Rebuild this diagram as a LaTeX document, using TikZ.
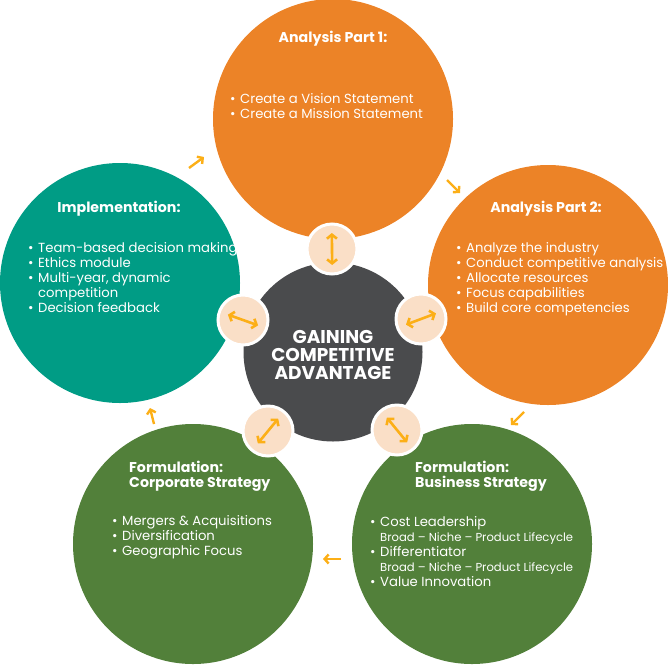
\documentclass[tikz,border=0pt]{standalone}
\usepackage{fontspec}
\setmainfont{Poppins}
\usetikzlibrary{arrows.meta,positioning,calc}

\definecolor{stageOrange}{RGB}{236,131,39}
\definecolor{stageTeal}{RGB}{0,156,133}
\definecolor{stageGreen}{RGB}{82,128,58}
\definecolor{hubGray}{RGB}{74,75,77}
\definecolor{jointPeach}{RGB}{250,223,199}
\definecolor{arrowGold}{RGB}{252,175,23}

\newcommand{\itm}{\makebox[10pt][l]{\textbullet}}
\newcommand{\ind}{\hspace*{10pt}}

\begin{document}
\begin{tikzpicture}[
  x=1pt, y=-1pt,
  font=\fontsize{13.2}{15}\selectfont,
  stage/.style={circle, minimum size=240pt, inner sep=0pt},
  joint/.style={circle, fill=jointPeach, draw=white, line width=3pt, minimum size=50pt, inner sep=0pt},
  hub/.style={circle, fill=hubGray, minimum size=179pt, inner sep=0pt},
  hubtxt/.style={text=white, align=center, inner sep=0pt, font=\bfseries\fontsize{18.5}{18}\selectfont},
  ttl/.style={text=white, font=\bfseries\fontsize{14.2}{15}\selectfont, inner sep=0pt, align=left},
  pts/.style={text=white, align=left, inner sep=0pt, anchor=base west},
  dbl/.style={draw=arrowGold, line width=2.6pt, {Straight Barb[length=4pt,width=10pt]}-{Straight Barb[length=4pt,width=10pt]}},
  cyc/.style={draw=arrowGold, line width=2.4pt, -{Straight Barb[length=4pt,width=9pt]}},
]
\useasboundingbox (0,0) rectangle (668,664);

% Stages
\node[stage, fill=stageOrange] (AP1) at (333,119) {};
\node[stage, fill=stageOrange] (AP2) at (548,285) {};
\node[stage, fill=stageGreen]  (FBS) at (472,544) {};
\node[stage, fill=stageGreen]  (FCS) at (193,544) {};
\node[stage, fill=stageTeal]   (IMP) at (120,283) {};

% Hub
\node[hub] (GCA) at (333,352) {};
\node[hubtxt] (GCAt) at ($(GCA)+(0,3)$) {GAINING\\COMPETITIVE\\ADVANTAGE};

% Joints between hub and stages
\node[joint] (J1) at (332,249) {};
\node[joint] (J2) at (421,319) {};
\node[joint] (J3) at (397,430) {};
\node[joint] (J4) at (268,431) {};
\node[joint] (J5) at (243,320) {};

\foreach \j in {J1,J2,J3,J4,J5}
  \draw[dbl] ($(\j)!-16pt!(GCA)$) -- ($(\j)!16pt!(GCA)$);

% Titles (base = last line)
\node[ttl, anchor=base] (AP1t) at ($(AP1)+(0,-77)$) {Analysis Part 1:};
\node[ttl, anchor=base] (AP2t) at ($(AP2)+(-2,-73)$) {Analysis Part 2:};
\node[ttl, anchor=base] (IMPt) at ($(IMP)+(-1,-71)$) {Implementation:};
\node[ttl, anchor=base west] (FCSt) at ($(FCS)+(-64,-57)$) {Formulation:\\Corporate Strategy};
\node[ttl, anchor=base west] (FBSt) at ($(FBS)+(-57,-57)$) {Formulation:\\Business Strategy};

% Bullet lists (base = last line)
\node[pts] (AP1b) at ($(AP1)+(-103,-1)$) {\itm Create a Vision Statement\\\itm Create a Mission Statement};
\node[pts] (AP2b) at ($(AP2)+(-92,27)$) {\itm Analyze the industry\\\itm Conduct competitive analysis\\\itm Allocate resources\\\itm Focus capabilities\\\itm Build core competencies};
\node[pts] (IMPb) at ($(IMP)+(-92,29)$) {\itm Team-based decision making\\\itm Ethics module\\\itm Multi-year, dynamic\\\ind competition\\\itm Decision feedback};
\node[pts] (FCSb) at ($(FCS)+(-81,11)$) {\itm Mergers \& Acquisitions\\\itm Diversification\\\itm Geographic Focus};
\node[pts] (FBSb) at ($(FBS)+(-102,42)$) {\itm Cost Leadership\\\ind{\fontsize{11.6}{15}\selectfont Broad – Niche – Product Lifecycle}\\\itm Differentiator\\\ind{\fontsize{11.6}{15}\selectfont Broad – Niche – Product Lifecycle}\\\itm Value Innovation};

% Cycle arrows between stages
\coordinate (c1s) at (189,168); \coordinate (c1e) at (204,157);
\coordinate (c2s) at (447,180); \coordinate (c2e) at (460,193);
\coordinate (c3s) at (524,412); \coordinate (c3e) at (511,425);
\coordinate (c4s) at (341,559); \coordinate (c4e) at (323,559);
\coordinate (c5s) at (154,424); \coordinate (c5e) at (150,408);
\foreach \k in {1,...,5}
  \draw[cyc] (c\k s) -- (c\k e);

\end{tikzpicture}
\end{document}
